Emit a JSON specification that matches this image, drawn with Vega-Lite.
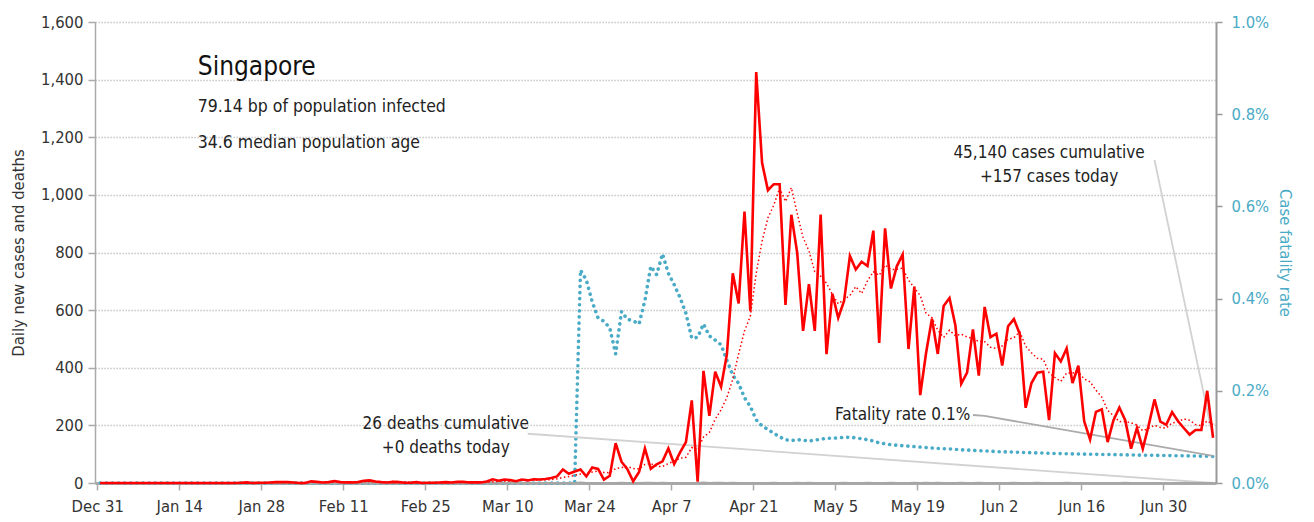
{
  "$schema": "https://vega.github.io/schema/vega-lite/v6.json",
  "width": 1121,
  "height": 461,
  "autosize": {"type": "none"},
  "padding": {"left": 95, "top": 22, "right": 98, "bottom": 39},
  "background": "white",
  "config": {
    "font": "Liberation Sans Narrow, DejaVu Sans Condensed, Roboto, sans-serif",
    "view": {"stroke": null}
  },
  "datasets": {
    "daily": [
      {"date":"2019-12-31","cases":0,"avg7":0,"deaths":0,"cfr":0},
      {"date":"2020-01-01","cases":0,"avg7":0,"deaths":0,"cfr":0},
      {"date":"2020-01-02","cases":0,"avg7":0,"deaths":0,"cfr":0},
      {"date":"2020-01-03","cases":0,"avg7":0,"deaths":0,"cfr":0},
      {"date":"2020-01-04","cases":0,"avg7":0,"deaths":0,"cfr":0},
      {"date":"2020-01-05","cases":0,"avg7":0,"deaths":0,"cfr":0},
      {"date":"2020-01-06","cases":0,"avg7":0,"deaths":0,"cfr":0},
      {"date":"2020-01-07","cases":0,"avg7":0,"deaths":0,"cfr":0},
      {"date":"2020-01-08","cases":0,"avg7":0,"deaths":0,"cfr":0},
      {"date":"2020-01-09","cases":0,"avg7":0,"deaths":0,"cfr":0},
      {"date":"2020-01-10","cases":0,"avg7":0,"deaths":0,"cfr":0},
      {"date":"2020-01-11","cases":0,"avg7":0,"deaths":0,"cfr":0},
      {"date":"2020-01-12","cases":0,"avg7":0,"deaths":0,"cfr":0},
      {"date":"2020-01-13","cases":0,"avg7":0,"deaths":0,"cfr":0},
      {"date":"2020-01-14","cases":0,"avg7":0,"deaths":0,"cfr":0},
      {"date":"2020-01-15","cases":0,"avg7":0,"deaths":0,"cfr":0},
      {"date":"2020-01-16","cases":0,"avg7":0,"deaths":0,"cfr":0},
      {"date":"2020-01-17","cases":0,"avg7":0,"deaths":0,"cfr":0},
      {"date":"2020-01-18","cases":0,"avg7":0,"deaths":0,"cfr":0},
      {"date":"2020-01-19","cases":0,"avg7":0,"deaths":0,"cfr":0},
      {"date":"2020-01-20","cases":0,"avg7":0,"deaths":0,"cfr":0},
      {"date":"2020-01-21","cases":0,"avg7":0,"deaths":0,"cfr":0},
      {"date":"2020-01-22","cases":0,"avg7":0,"deaths":0,"cfr":0},
      {"date":"2020-01-23","cases":0,"avg7":0,"deaths":0,"cfr":0},
      {"date":"2020-01-24","cases":1,"avg7":0.14,"deaths":0,"cfr":0},
      {"date":"2020-01-25","cases":2,"avg7":0.43,"deaths":0,"cfr":0},
      {"date":"2020-01-26","cases":0,"avg7":0.43,"deaths":0,"cfr":0},
      {"date":"2020-01-27","cases":1,"avg7":0.57,"deaths":0,"cfr":0},
      {"date":"2020-01-28","cases":1,"avg7":0.71,"deaths":0,"cfr":0},
      {"date":"2020-01-29","cases":2,"avg7":1.0,"deaths":0,"cfr":0},
      {"date":"2020-01-30","cases":3,"avg7":1.43,"deaths":0,"cfr":0},
      {"date":"2020-01-31","cases":3,"avg7":1.71,"deaths":0,"cfr":0},
      {"date":"2020-02-01","cases":3,"avg7":1.86,"deaths":0,"cfr":0},
      {"date":"2020-02-02","cases":2,"avg7":2.14,"deaths":0,"cfr":0},
      {"date":"2020-02-03","cases":0,"avg7":2.0,"deaths":0,"cfr":0},
      {"date":"2020-02-04","cases":0,"avg7":1.86,"deaths":0,"cfr":0},
      {"date":"2020-02-05","cases":6,"avg7":2.43,"deaths":0,"cfr":0},
      {"date":"2020-02-06","cases":4,"avg7":2.57,"deaths":0,"cfr":0},
      {"date":"2020-02-07","cases":2,"avg7":2.43,"deaths":0,"cfr":0},
      {"date":"2020-02-08","cases":3,"avg7":2.43,"deaths":0,"cfr":0},
      {"date":"2020-02-09","cases":7,"avg7":3.14,"deaths":0,"cfr":0},
      {"date":"2020-02-10","cases":3,"avg7":3.57,"deaths":0,"cfr":0},
      {"date":"2020-02-11","cases":2,"avg7":3.86,"deaths":0,"cfr":0},
      {"date":"2020-02-12","cases":2,"avg7":3.29,"deaths":0,"cfr":0},
      {"date":"2020-02-13","cases":3,"avg7":3.14,"deaths":0,"cfr":0},
      {"date":"2020-02-14","cases":8,"avg7":4.0,"deaths":0,"cfr":0},
      {"date":"2020-02-15","cases":9,"avg7":4.86,"deaths":0,"cfr":0},
      {"date":"2020-02-16","cases":5,"avg7":4.57,"deaths":0,"cfr":0},
      {"date":"2020-02-17","cases":3,"avg7":4.57,"deaths":0,"cfr":0},
      {"date":"2020-02-18","cases":2,"avg7":4.57,"deaths":0,"cfr":0},
      {"date":"2020-02-19","cases":4,"avg7":4.86,"deaths":0,"cfr":0},
      {"date":"2020-02-20","cases":3,"avg7":4.86,"deaths":0,"cfr":0},
      {"date":"2020-02-21","cases":1,"avg7":3.86,"deaths":0,"cfr":0},
      {"date":"2020-02-22","cases":1,"avg7":2.71,"deaths":0,"cfr":0},
      {"date":"2020-02-23","cases":3,"avg7":2.43,"deaths":0,"cfr":0},
      {"date":"2020-02-24","cases":0,"avg7":2.0,"deaths":0,"cfr":0},
      {"date":"2020-02-25","cases":1,"avg7":1.86,"deaths":0,"cfr":0},
      {"date":"2020-02-26","cases":1,"avg7":1.43,"deaths":0,"cfr":0},
      {"date":"2020-02-27","cases":2,"avg7":1.29,"deaths":0,"cfr":0},
      {"date":"2020-02-28","cases":3,"avg7":1.57,"deaths":0,"cfr":0},
      {"date":"2020-02-29","cases":2,"avg7":1.71,"deaths":0,"cfr":0},
      {"date":"2020-03-01","cases":4,"avg7":1.86,"deaths":0,"cfr":0},
      {"date":"2020-03-02","cases":4,"avg7":2.43,"deaths":0,"cfr":0},
      {"date":"2020-03-03","cases":2,"avg7":2.57,"deaths":0,"cfr":0},
      {"date":"2020-03-04","cases":2,"avg7":2.71,"deaths":0,"cfr":0},
      {"date":"2020-03-05","cases":2,"avg7":2.71,"deaths":0,"cfr":0},
      {"date":"2020-03-06","cases":5,"avg7":3.0,"deaths":0,"cfr":0},
      {"date":"2020-03-07","cases":13,"avg7":4.57,"deaths":0,"cfr":0},
      {"date":"2020-03-08","cases":8,"avg7":5.14,"deaths":0,"cfr":0},
      {"date":"2020-03-09","cases":12,"avg7":6.29,"deaths":0,"cfr":0},
      {"date":"2020-03-10","cases":10,"avg7":7.43,"deaths":0,"cfr":0},
      {"date":"2020-03-11","cases":6,"avg7":8.0,"deaths":0,"cfr":0},
      {"date":"2020-03-12","cases":12,"avg7":9.43,"deaths":0,"cfr":0},
      {"date":"2020-03-13","cases":9,"avg7":10.0,"deaths":0,"cfr":0},
      {"date":"2020-03-14","cases":13,"avg7":10.0,"deaths":0,"cfr":0},
      {"date":"2020-03-15","cases":12,"avg7":10.57,"deaths":0,"cfr":0},
      {"date":"2020-03-16","cases":14,"avg7":10.86,"deaths":0,"cfr":0},
      {"date":"2020-03-17","cases":17,"avg7":11.86,"deaths":0,"cfr":0},
      {"date":"2020-03-18","cases":23,"avg7":14.29,"deaths":0,"cfr":0},
      {"date":"2020-03-19","cases":47,"avg7":19.29,"deaths":0,"cfr":0},
      {"date":"2020-03-20","cases":32,"avg7":22.57,"deaths":0,"cfr":0},
      {"date":"2020-03-21","cases":40,"avg7":26.43,"deaths":0,"cfr":0},
      {"date":"2020-03-22","cases":47,"avg7":31.43,"deaths":2,"cfr":0.00462},
      {"date":"2020-03-23","cases":23,"avg7":32.71,"deaths":0,"cfr":0.0044},
      {"date":"2020-03-24","cases":54,"avg7":38.0,"deaths":0,"cfr":0.00393},
      {"date":"2020-03-25","cases":49,"avg7":41.71,"deaths":0,"cfr":0.00358},
      {"date":"2020-03-26","cases":12,"avg7":36.71,"deaths":0,"cfr":0.00351},
      {"date":"2020-03-27","cases":25,"avg7":35.71,"deaths":0,"cfr":0.00336},
      {"date":"2020-03-28","cases":138,"avg7":49.71,"deaths":0,"cfr":0.0028},
      {"date":"2020-03-29","cases":74,"avg7":53.57,"deaths":1,"cfr":0.00372},
      {"date":"2020-03-30","cases":48,"avg7":57.14,"deaths":0,"cfr":0.00355},
      {"date":"2020-03-31","cases":6,"avg7":50.29,"deaths":0,"cfr":0.00352},
      {"date":"2020-04-01","cases":38,"avg7":48.71,"deaths":0,"cfr":0.00345},
      {"date":"2020-04-02","cases":120,"avg7":64.14,"deaths":1,"cfr":0.00396},
      {"date":"2020-04-03","cases":49,"avg7":67.57,"deaths":1,"cfr":0.0047},
      {"date":"2020-04-04","cases":65,"avg7":57.14,"deaths":0,"cfr":0.00452},
      {"date":"2020-04-05","cases":75,"avg7":57.29,"deaths":1,"cfr":0.00497},
      {"date":"2020-04-06","cases":120,"avg7":67.57,"deaths":0,"cfr":0.00455},
      {"date":"2020-04-07","cases":66,"avg7":76.14,"deaths":0,"cfr":0.0043},
      {"date":"2020-04-08","cases":106,"avg7":85.86,"deaths":0,"cfr":0.00402},
      {"date":"2020-04-09","cases":142,"avg7":89.0,"deaths":0,"cfr":0.00368},
      {"date":"2020-04-10","cases":287,"avg7":123.0,"deaths":0,"cfr":0.00314},
      {"date":"2020-04-11","cases":5,"avg7":114.43,"deaths":0,"cfr":0.00316},
      {"date":"2020-04-12","cases":389,"avg7":159.29,"deaths":2,"cfr":0.00345},
      {"date":"2020-04-13","cases":233,"avg7":175.43,"deaths":0,"cfr":0.00319},
      {"date":"2020-04-14","cases":386,"avg7":221.14,"deaths":1,"cfr":0.0031},
      {"date":"2020-04-15","cases":334,"avg7":253.71,"deaths":1,"cfr":0.003},
      {"date":"2020-04-16","cases":447,"avg7":297.29,"deaths":0,"cfr":0.00266},
      {"date":"2020-04-17","cases":728,"avg7":360.29,"deaths":1,"cfr":0.00234},
      {"date":"2020-04-18","cases":623,"avg7":448.57,"deaths":0,"cfr":0.00216},
      {"date":"2020-04-19","cases":942,"avg7":527.57,"deaths":0,"cfr":0.00185},
      {"date":"2020-04-20","cases":596,"avg7":579.43,"deaths":0,"cfr":0.00166},
      {"date":"2020-04-21","cases":1426,"avg7":728.0,"deaths":0,"cfr":0.00137},
      {"date":"2020-04-22","cases":1111,"avg7":839.0,"deaths":0,"cfr":0.00124},
      {"date":"2020-04-23","cases":1016,"avg7":920.29,"deaths":0,"cfr":0.00116},
      {"date":"2020-04-24","cases":1037,"avg7":964.43,"deaths":1,"cfr":0.00108},
      {"date":"2020-04-25","cases":1037,"avg7":1023.57,"deaths":0,"cfr":0.001},
      {"date":"2020-04-26","cases":618,"avg7":977.29,"deaths":0,"cfr":0.00094},
      {"date":"2020-04-27","cases":931,"avg7":1025.14,"deaths":0,"cfr":0.00092},
      {"date":"2020-04-28","cases":799,"avg7":935.57,"deaths":1,"cfr":0.00094},
      {"date":"2020-04-29","cases":528,"avg7":852.29,"deaths":0,"cfr":0.00093},
      {"date":"2020-04-30","cases":690,"avg7":805.71,"deaths":1,"cfr":0.00091},
      {"date":"2020-05-01","cases":528,"avg7":733.0,"deaths":0,"cfr":0.00093},
      {"date":"2020-05-02","cases":932,"avg7":718.0,"deaths":0,"cfr":0.00095},
      {"date":"2020-05-03","cases":447,"avg7":693.57,"deaths":0,"cfr":0.00097},
      {"date":"2020-05-04","cases":657,"avg7":654.43,"deaths":0,"cfr":0.00097},
      {"date":"2020-05-05","cases":573,"avg7":622.14,"deaths":0,"cfr":0.00098},
      {"date":"2020-05-06","cases":632,"avg7":637.0,"deaths":1,"cfr":0.00099},
      {"date":"2020-05-07","cases":788,"avg7":651.0,"deaths":0,"cfr":0.00099},
      {"date":"2020-05-08","cases":741,"avg7":681.43,"deaths":0,"cfr":0.00098},
      {"date":"2020-05-09","cases":768,"avg7":658.0,"deaths":0,"cfr":0.00096},
      {"date":"2020-05-10","cases":753,"avg7":701.71,"deaths":1,"cfr":0.00094},
      {"date":"2020-05-11","cases":876,"avg7":733.0,"deaths":0,"cfr":0.00091},
      {"date":"2020-05-12","cases":486,"avg7":720.57,"deaths":0,"cfr":0.00087},
      {"date":"2020-05-13","cases":884,"avg7":756.57,"deaths":0,"cfr":0.00085},
      {"date":"2020-05-14","cases":675,"avg7":740.43,"deaths":1,"cfr":0.00083},
      {"date":"2020-05-15","cases":752,"avg7":742.0,"deaths":0,"cfr":0.00082},
      {"date":"2020-05-16","cases":793,"avg7":745.57,"deaths":0,"cfr":0.00081},
      {"date":"2020-05-17","cases":465,"avg7":704.43,"deaths":0,"cfr":0.0008},
      {"date":"2020-05-18","cases":682,"avg7":676.71,"deaths":1,"cfr":0.00079},
      {"date":"2020-05-19","cases":305,"avg7":650.86,"deaths":0,"cfr":0.00078},
      {"date":"2020-05-20","cases":451,"avg7":589.0,"deaths":1,"cfr":0.00077},
      {"date":"2020-05-21","cases":570,"avg7":574.0,"deaths":0,"cfr":0.00076},
      {"date":"2020-05-22","cases":448,"avg7":530.57,"deaths":1,"cfr":0.00075},
      {"date":"2020-05-23","cases":614,"avg7":505.0,"deaths":0,"cfr":0.000745},
      {"date":"2020-05-24","cases":642,"avg7":530.29,"deaths":0,"cfr":0.00074},
      {"date":"2020-05-25","cases":548,"avg7":511.14,"deaths":0,"cfr":0.00073},
      {"date":"2020-05-26","cases":344,"avg7":516.71,"deaths":1,"cfr":0.00072},
      {"date":"2020-05-27","cases":383,"avg7":507.0,"deaths":0,"cfr":0.000715},
      {"date":"2020-05-28","cases":533,"avg7":501.71,"deaths":0,"cfr":0.00071},
      {"date":"2020-05-29","cases":373,"avg7":491.0,"deaths":1,"cfr":0.0007},
      {"date":"2020-05-30","cases":611,"avg7":490.57,"deaths":0,"cfr":0.000695},
      {"date":"2020-05-31","cases":506,"avg7":471.14,"deaths":0,"cfr":0.00069},
      {"date":"2020-06-01","cases":518,"avg7":466.86,"deaths":0,"cfr":0.00068},
      {"date":"2020-06-02","cases":408,"avg7":476.0,"deaths":0,"cfr":0.000677},
      {"date":"2020-06-03","cases":544,"avg7":499.0,"deaths":0,"cfr":0.000673},
      {"date":"2020-06-04","cases":569,"avg7":504.14,"deaths":1,"cfr":0.00067},
      {"date":"2020-06-05","cases":517,"avg7":524.71,"deaths":0,"cfr":0.000665},
      {"date":"2020-06-06","cases":261,"avg7":474.71,"deaths":0,"cfr":0.00066},
      {"date":"2020-06-07","cases":347,"avg7":452.0,"deaths":0,"cfr":0.000657},
      {"date":"2020-06-08","cases":383,"avg7":432.71,"deaths":1,"cfr":0.000653},
      {"date":"2020-06-09","cases":386,"avg7":429.57,"deaths":0,"cfr":0.00065},
      {"date":"2020-06-10","cases":218,"avg7":383.0,"deaths":0,"cfr":0.000645},
      {"date":"2020-06-11","cases":451,"avg7":366.14,"deaths":0,"cfr":0.00064},
      {"date":"2020-06-12","cases":422,"avg7":352.57,"deaths":0,"cfr":0.000638},
      {"date":"2020-06-13","cases":467,"avg7":382.0,"deaths":1,"cfr":0.000635},
      {"date":"2020-06-14","cases":347,"avg7":382.0,"deaths":0,"cfr":0.000632},
      {"date":"2020-06-15","cases":407,"avg7":385.43,"deaths":0,"cfr":0.00063},
      {"date":"2020-06-16","cases":214,"avg7":360.86,"deaths":0,"cfr":0.000627},
      {"date":"2020-06-17","cases":151,"avg7":351.29,"deaths":0,"cfr":0.000625},
      {"date":"2020-06-18","cases":247,"avg7":322.14,"deaths":0,"cfr":0.000622},
      {"date":"2020-06-19","cases":256,"avg7":298.43,"deaths":0,"cfr":0.00062},
      {"date":"2020-06-20","cases":142,"avg7":252.0,"deaths":0,"cfr":0.000618},
      {"date":"2020-06-21","cases":218,"avg7":233.57,"deaths":0,"cfr":0.000615},
      {"date":"2020-06-22","cases":262,"avg7":212.86,"deaths":0,"cfr":0.000613},
      {"date":"2020-06-23","cases":218,"avg7":213.43,"deaths":1,"cfr":0.00061},
      {"date":"2020-06-24","cases":119,"avg7":208.86,"deaths":0,"cfr":0.000608},
      {"date":"2020-06-25","cases":191,"avg7":200.86,"deaths":0,"cfr":0.000606},
      {"date":"2020-06-26","cases":119,"avg7":181.29,"deaths":0,"cfr":0.000604},
      {"date":"2020-06-27","cases":200,"avg7":189.57,"deaths":0,"cfr":0.000602},
      {"date":"2020-06-28","cases":290,"avg7":199.86,"deaths":0,"cfr":0.0006},
      {"date":"2020-06-29","cases":213,"avg7":192.86,"deaths":0,"cfr":0.000598},
      {"date":"2020-06-30","cases":202,"avg7":190.57,"deaths":0,"cfr":0.000596},
      {"date":"2020-07-01","cases":246,"avg7":208.71,"deaths":0,"cfr":0.000594},
      {"date":"2020-07-02","cases":215,"avg7":212.14,"deaths":0,"cfr":0.000592},
      {"date":"2020-07-03","cases":191,"avg7":222.43,"deaths":0,"cfr":0.00059},
      {"date":"2020-07-04","cases":168,"avg7":217.86,"deaths":0,"cfr":0.000588},
      {"date":"2020-07-05","cases":184,"avg7":202.71,"deaths":0,"cfr":0.000585},
      {"date":"2020-07-06","cases":184,"avg7":198.57,"deaths":0,"cfr":0.000582},
      {"date":"2020-07-07","cases":320,"avg7":215.43,"deaths":0,"cfr":0.000579},
      {"date":"2020-07-08","cases":157,"avg7":202.71,"deaths":0,"cfr":0.000576}
    ],
    "notes": [
      {"date":"2020-01-17","value":1444,"text":"Singapore","kind":"title"},
      {"date":"2020-01-17","value":1305,"text":"79.14 bp of population infected","kind":"sub"},
      {"date":"2020-01-17","value":1180,"text":"34.6 median population age","kind":"sub"},
      {"date":"2020-06-10","value":1145,"text":"45,140 cases cumulative","kind":"note"},
      {"date":"2020-06-10","value":1062,"text":"+157 cases today","kind":"note"},
      {"date":"2020-05-16","value":236,"text":"Fatality rate 0.1%","kind":"note"},
      {"date":"2020-02-28","value":205,"text":"26 deaths cumulative","kind":"note"},
      {"date":"2020-02-28","value":121,"text":"+0 deaths today","kind":"note"}
    ],
    "leaders": [
      {"id":"cases","date":"2020-06-28","value":1121},
      {"id":"cases","date":"2020-07-08","value":157},
      {"id":"fatal","date":"2020-05-28","value":236},
      {"id":"fatal","date":"2020-05-30","value":233},
      {"id":"fatal","date":"2020-07-08","value":94},
      {"id":"deaths","date":"2020-03-13","value":171},
      {"id":"deaths","date":"2020-07-08","value":0}
    ]
  },
  "layer": [
    {
      "layer": [
        {
          "data": {"name": "daily"},
          "mark": {"type": "line", "color": "#4aabc6", "strokeWidth": 3.6, "strokeDash": [0.1, 6], "strokeCap": "round"},
          "encoding": {
            "x": {"field": "date", "type": "temporal", "timeUnit": "utcyearmonthdate", "bandPosition": 0.5, "title": null,
              "scale": {"type": "utc", "domain": [{"year": 2019, "month": 12, "date": 30, "hours": 14, "minutes": 40, "utc": true}, {"year": 2020, "month": 7, "date": 9, "utc": true}]},
              "axis": {
                "values": [
                  {"year": 2019, "month": 12, "date": 31, "utc": true},
                  {"year": 2020, "month": 1, "date": 14, "utc": true},
                  {"year": 2020, "month": 1, "date": 28, "utc": true},
                  {"year": 2020, "month": 2, "date": 11, "utc": true},
                  {"year": 2020, "month": 2, "date": 25, "utc": true},
                  {"year": 2020, "month": 3, "date": 10, "utc": true},
                  {"year": 2020, "month": 3, "date": 24, "utc": true},
                  {"year": 2020, "month": 4, "date": 7, "utc": true},
                  {"year": 2020, "month": 4, "date": 21, "utc": true},
                  {"year": 2020, "month": 5, "date": 5, "utc": true},
                  {"year": 2020, "month": 5, "date": 19, "utc": true},
                  {"year": 2020, "month": 6, "date": 2, "utc": true},
                  {"year": 2020, "month": 6, "date": 16, "utc": true},
                  {"year": 2020, "month": 6, "date": 30, "utc": true}
                ],
                "labelExpr": "utcFormat(datum.value, '%b %-d')", "title": null,
                "labelFontSize": 16.5, "labelColor": "#333333", "labelPadding": 8, "labelFlush": false, "labelOverlap": false,
                "tickSize": 7, "tickColor": "#aaaaaa", "tickWidth": 1.5,
                "domainColor": "#aaaaaa", "domainWidth": 3, "grid": false
              }
            },
            "y": {"field": "cfr", "type": "quantitative", "title": "Case fatality rate",
              "scale": {"domain": [0, 0.01], "nice": false, "zero": true},
              "axis": {
                "orient": "right", "values": [0, 0.002, 0.004, 0.006, 0.008, 0.01], "format": ".1%",
                "titleColor": "#4aabc6", "titleFontSize": 16.5, "titleFontWeight": "normal", "titlePadding": 8,
                "labelColor": "#4aabc6", "labelFontSize": 16.5, "labelPadding": 9,
                "tickSize": 6, "tickColor": "#999999", "tickWidth": 1.5,
                "domainColor": "#999999", "domainWidth": 2, "grid": false
              }
            }
          }
        },
        {
          "data": {"name": "daily"},
          "transform": [{"filter": "datum.date == '2020-07-08'"}],
          "mark": {"type": "circle", "color": "#4aabc6", "size": 130, "opacity": 1},
          "encoding": {
            "x": {"field": "date", "type": "temporal", "timeUnit": "utcyearmonthdate", "bandPosition": 0.5, "title": null, "axis": {"labelExpr": "utcFormat(datum.value, '%b %-d')"}},
            "y": {"field": "cfr", "type": "quantitative", "title": "Case fatality rate"}
          }
        }
      ]
    },
    {
      "layer": [
        {
          "data": {"name": "leaders"},
          "transform": [{"filter": "datum.id != 'fatal'"}],
          "mark": {"type": "line", "color": "#d2d2d2", "strokeWidth": 1.8},
          "encoding": {
            "x": {"field": "date", "type": "temporal", "timeUnit": "utcyearmonthdate", "bandPosition": 0.5, "title": null, "axis": {"labelExpr": "utcFormat(datum.value, '%b %-d')"}},
            "y": {"field": "value", "type": "quantitative", "title": "Daily new cases and deaths",
              "scale": {"domain": [0, 1600], "nice": false, "zero": true},
              "axis": {
                "values": [0, 200, 400, 600, 800, 1000, 1200, 1400, 1600], "format": ",d",
                "titleColor": "#333333", "titleFontSize": 16.5, "titleFontWeight": "normal", "titlePadding": 14,
                "labelColor": "#333333", "labelFontSize": 16.5, "labelPadding": 5,
                "tickSize": 7, "tickColor": "#aaaaaa", "tickWidth": 1.5,
                "domainColor": "#aaaaaa", "domainWidth": 1.5,
                "grid": true, "gridColor": "#b8b8b8", "gridDash": [1.2, 1.8], "gridWidth": 1.3
              }
            },
            "detail": {"field": "id"}
          }
        },
        {
          "data": {"name": "leaders"},
          "transform": [{"filter": "datum.id == 'fatal'"}],
          "mark": {"type": "line", "color": "#ababab", "strokeWidth": 1.8},
          "encoding": {
            "x": {"field": "date", "type": "temporal", "timeUnit": "utcyearmonthdate", "bandPosition": 0.5, "title": null, "axis": {"labelExpr": "utcFormat(datum.value, '%b %-d')"}},
            "y": {"field": "value", "type": "quantitative", "title": "Daily new cases and deaths"}
          }
        },
        {
          "data": {"name": "daily"},
          "mark": {"type": "line", "color": "#a6a6a6", "strokeWidth": 2},
          "encoding": {
            "x": {"field": "date", "type": "temporal", "timeUnit": "utcyearmonthdate", "bandPosition": 0.5, "title": null, "axis": {"labelExpr": "utcFormat(datum.value, '%b %-d')"}},
            "y": {"field": "deaths", "type": "quantitative", "title": "Daily new cases and deaths"}
          }
        },
        {
          "data": {"name": "daily"},
          "mark": {"type": "line", "color": "#ff0000", "strokeWidth": 1.5, "strokeDash": [1.5, 2.5]},
          "encoding": {
            "x": {"field": "date", "type": "temporal", "timeUnit": "utcyearmonthdate", "bandPosition": 0.5, "title": null, "axis": {"labelExpr": "utcFormat(datum.value, '%b %-d')"}},
            "y": {"field": "avg7", "type": "quantitative", "title": "Daily new cases and deaths"}
          }
        },
        {
          "data": {"name": "daily"},
          "mark": {"type": "line", "color": "#ff0000", "strokeWidth": 2.6, "strokeJoin": "miter"},
          "encoding": {
            "x": {"field": "date", "type": "temporal", "timeUnit": "utcyearmonthdate", "bandPosition": 0.5, "title": null, "axis": {"labelExpr": "utcFormat(datum.value, '%b %-d')"}},
            "y": {"field": "cases", "type": "quantitative", "title": "Daily new cases and deaths"}
          }
        },
        {
          "data": {"name": "daily"},
          "transform": [{"filter": "datum.date == '2020-07-08'"}],
          "mark": {"type": "circle", "color": "#ff0000", "size": 120, "opacity": 1},
          "encoding": {
            "x": {"field": "date", "type": "temporal", "timeUnit": "utcyearmonthdate", "bandPosition": 0.5, "title": null, "axis": {"labelExpr": "utcFormat(datum.value, '%b %-d')"}},
            "y": {"field": "cases", "type": "quantitative", "title": "Daily new cases and deaths"}
          }
        },
        {
          "data": {"name": "daily"},
          "transform": [{"filter": "datum.date == '2020-07-08'"}],
          "mark": {"type": "circle", "color": "#a6a6a6", "size": 100, "opacity": 1},
          "encoding": {
            "x": {"field": "date", "type": "temporal", "timeUnit": "utcyearmonthdate", "bandPosition": 0.5, "title": null, "axis": {"labelExpr": "utcFormat(datum.value, '%b %-d')"}},
            "y": {"field": "deaths", "type": "quantitative", "title": "Daily new cases and deaths"}
          }
        },
        {
          "data": {"name": "notes"},
          "transform": [{"filter": "datum.kind == 'title'"}],
          "mark": {"type": "text", "align": "left", "baseline": "middle", "fontSize": 26, "color": "#111111", "dx": -2},
          "encoding": {
            "x": {"field": "date", "type": "temporal", "timeUnit": "utcyearmonthdate", "bandPosition": 0.5, "title": null, "axis": {"labelExpr": "utcFormat(datum.value, '%b %-d')"}},
            "y": {"field": "value", "type": "quantitative", "title": "Daily new cases and deaths"},
            "text": {"field": "text"}
          }
        },
        {
          "data": {"name": "notes"},
          "transform": [{"filter": "datum.kind == 'sub'"}],
          "mark": {"type": "text", "align": "left", "baseline": "middle", "fontSize": 17.5, "color": "#222222", "dx": -2},
          "encoding": {
            "x": {"field": "date", "type": "temporal", "timeUnit": "utcyearmonthdate", "bandPosition": 0.5, "title": null, "axis": {"labelExpr": "utcFormat(datum.value, '%b %-d')"}},
            "y": {"field": "value", "type": "quantitative", "title": "Daily new cases and deaths"},
            "text": {"field": "text"}
          }
        },
        {
          "data": {"name": "notes"},
          "transform": [{"filter": "datum.kind == 'note'"}],
          "mark": {"type": "text", "align": "center", "baseline": "middle", "fontSize": 17, "color": "#222222"},
          "encoding": {
            "x": {"field": "date", "type": "temporal", "timeUnit": "utcyearmonthdate", "bandPosition": 0.5, "title": null, "axis": {"labelExpr": "utcFormat(datum.value, '%b %-d')"}},
            "y": {"field": "value", "type": "quantitative", "title": "Daily new cases and deaths"},
            "text": {"field": "text"}
          }
        }
      ]
    }
  ],
  "resolve": {"scale": {"y": "independent"}}
}
